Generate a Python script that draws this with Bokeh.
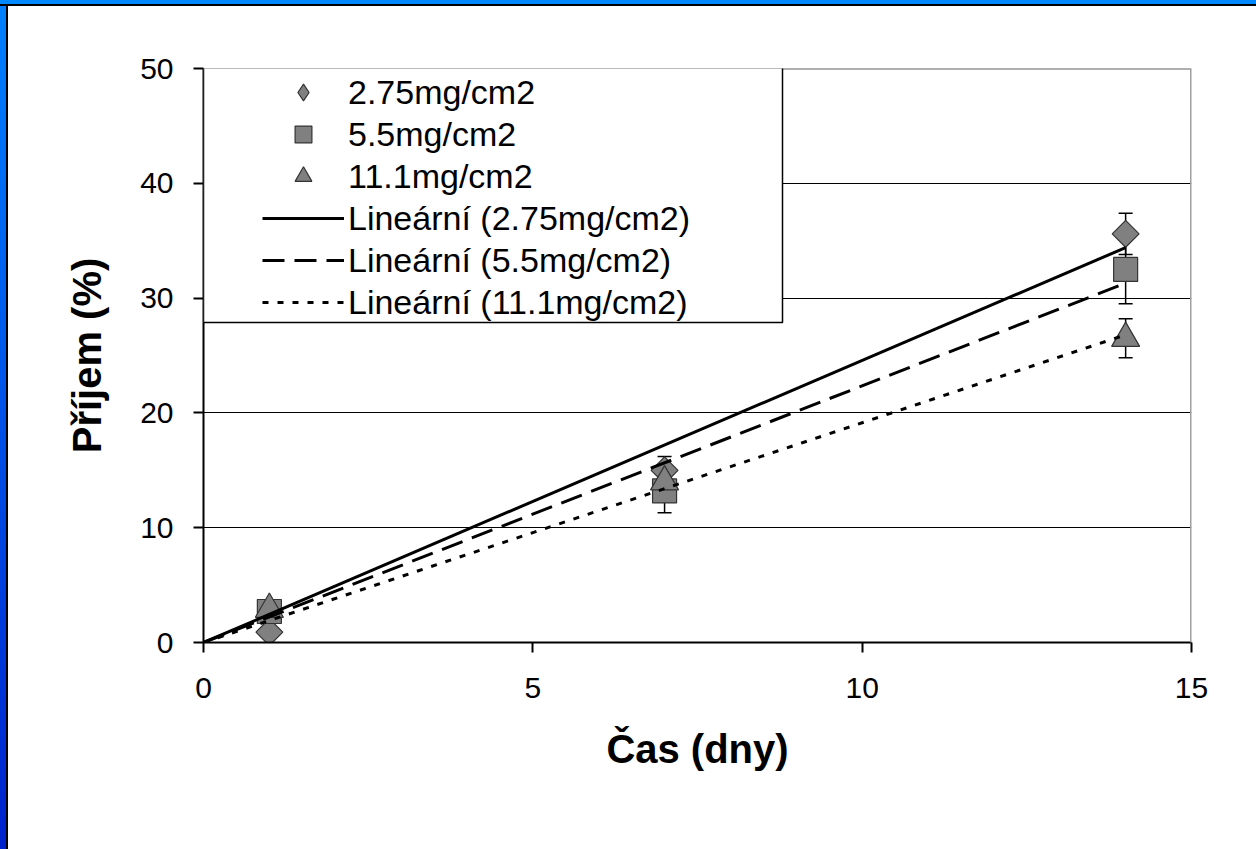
import numpy as np
from bokeh.plotting import figure
from bokeh.layouts import row, column
from bokeh.models import (Range1d, FixedTicker, BoxAnnotation, Span, Legend,
                          LegendItem, Whisker, ColumnDataSource, TeeHead, Div)
from bokeh.embed import file_html
from bokeh.resources import INLINE

# ---------------- data ----------------
days = [1, 7, 14]
series_names = ["2.75mg/cm2", "5.5mg/cm2", "11.1mg/cm2"]
uptake_275 = [0.9, 15.0, 35.6]
uptake_55 = [2.7, 13.2, 32.5]
uptake_111 = [2.9, 14.0, 26.5]
err_275 = [0.3, 1.2, 1.8]
err_55 = [0.4, 1.9, 3.0]
err_111 = [0.3, 0.8, 1.7]
trend_names = ["Lineární (2.75mg/cm2)", "Lineární (5.5mg/cm2)", "Lineární (11.1mg/cm2)"]
trend_x = [0, 14]
trend_275 = [0.0, 34.4]
trend_55 = [0.0, 31.3]
trend_111 = [0.0, 26.8]
x_ticks = [0, 5, 10, 15]
y_ticks = [0, 10, 20, 30, 40, 50]
grid_ticks = [10, 20, 30, 40]

# ---------------- layout ----------------
TOTAL_W, TOTAL_H = 1256, 849
BAR_L, BAR_T = 8, 6                      # blue slide frame strips
W, H = TOTAL_W - BAR_L, TOTAL_H - BAR_T  # figure size
# frame edges in figure px (reference page coords minus the strips)
FL, FT, FR, FB = 203 - BAR_L, 68 - BAR_T, 1191 - BAR_L, 642 - BAR_T
FONT = "Liberation Sans"

p = figure(width=W, height=H, output_backend="svg", toolbar_location=None,
           x_range=Range1d(0, 15), y_range=Range1d(0, 50),
           min_border_left=FL, min_border_right=W - FR,
           min_border_top=FT, min_border_bottom=H - FB)
p.outline_line_color = None
p.background_fill_color = "white"
p.border_fill_color = "white"

p.xgrid.visible = False
p.ygrid.ticker = FixedTicker(ticks=grid_ticks)
p.ygrid.grid_line_color = "black"
p.ygrid.grid_line_width = 1

for ax, ticks in ((p.xaxis[0], x_ticks), (p.yaxis[0], y_ticks)):
    ax.ticker = FixedTicker(ticks=ticks)
    ax.axis_line_color = "black"
    ax.axis_line_width = 2
    ax.major_tick_line_color = "black"
    ax.major_tick_line_width = 2
    ax.major_tick_out = 10
    ax.major_tick_in = 0
    ax.minor_tick_line_color = None
    ax.major_label_text_font = FONT
    ax.major_label_text_font_size = "30px"
    ax.major_label_text_color = "black"
    ax.axis_label_text_font = FONT
    ax.axis_label_text_font_style = "bold"
    ax.axis_label_text_font_size = "40px"
    ax.axis_label_text_color = "black"

p.xaxis.axis_label = "Čas (dny)"
p.yaxis.axis_label = "Příjem (%)"
p.xaxis.major_label_standoff = 25
p.yaxis.major_label_standoff = 20
p.xaxis.axis_label_standoff = 26
p.yaxis.axis_label_standoff = 28

# frame borders (top dark gray, right light gray)
p.add_layout(Span(location=50, dimension="width", line_color="#606060", line_width=2))
p.add_layout(Span(location=15, dimension="height", line_color="#a0a0a0", line_width=3))

# ---------------- error bars ----------------
for vals, errs in ((uptake_275, err_275), (uptake_55, err_55), (uptake_111, err_111)):
    src = ColumnDataSource(dict(base=days,
                                upper=[v + e for v, e in zip(vals, errs)],
                                lower=[v - e for v, e in zip(vals, errs)]))
    w = Whisker(source=src, base="base", upper="upper", lower="lower",
                dimension="height", line_color="black", line_width=1.5,
                upper_head=TeeHead(size=14, line_color="black", line_width=1.5),
                lower_head=TeeHead(size=14, line_color="black", line_width=1.5),
                level="underlay")
    p.add_layout(w)

# ---------------- markers ----------------
mk = dict(fill_color="#808080", line_color="#333333", line_width=1.2)
# diamond renderer used for the legend swatch (hidden under the rotated squares)
r_d_leg = p.scatter(days, uptake_275, marker="diamond", size=24, **mk)
r_d = p.scatter(days, uptake_275, marker="square", angle=np.pi / 4, size=19, **mk)
r_s = p.scatter(days, uptake_55, marker="square", size=24, **mk)
r_t = p.scatter(days, uptake_111, marker="triangle", size=28, **mk)

# ---------------- trend lines ----------------
l1 = p.line(trend_x, trend_275, line_color="black", line_width=3)
l2 = p.line(trend_x, trend_55, line_color="black", line_width=3, line_dash="22 10")
l3 = p.line(trend_x, trend_111, line_color="black", line_width=3, line_dash="6 9")

# ---------------- legend ----------------
px_x = (FR - FL) / 15.0
px_y = (FB - FT) / 50.0
p.add_layout(BoxAnnotation(left=0, right=579 / px_x,
                           top=50 + 1 / px_y, bottom=50 - 254 / px_y,
                           fill_color="white", fill_alpha=1.0,
                           line_color="black", line_alpha=1.0, line_width=1.5))

ROW = 42
items = [LegendItem(label=n, renderers=[r]) for n, r in
         zip(series_names + trend_names, [r_d_leg, r_s, r_t, l1, l2, l3])]
legend = Legend(items=items, location=(59, (FB - FT) - 3 - 6 * ROW),
                padding=0, spacing=0, margin=0,
                glyph_width=82, glyph_height=ROW, label_height=ROW,
                label_standoff=4,
                label_text_font=FONT, label_text_font_size="34px",
                label_text_color="black",
                border_line_color=None, background_fill_alpha=0.0)
p.add_layout(legend)

# ---------------- blue slide frame ----------------
top_bar = Div(text="", width=TOTAL_W, height=BAR_T, margin=0,
              styles={"background": "linear-gradient(to bottom, #0088ff 0px, #0088ff 4px, #000000 4px, #000000 6px)"})
left_bar = Div(text="", width=BAR_L, height=H, margin=0,
               styles={"background": "linear-gradient(to right, rgba(0,0,0,0) 0px, rgba(0,0,0,0) 6px, #000000 6px, #000000 8px), linear-gradient(to bottom, #0080ff, #0022cc)"})

page = column(top_bar, row(left_bar, p, spacing=0, margin=0), spacing=0, margin=0)

open("out.html", "w").write(file_html(page, INLINE))
